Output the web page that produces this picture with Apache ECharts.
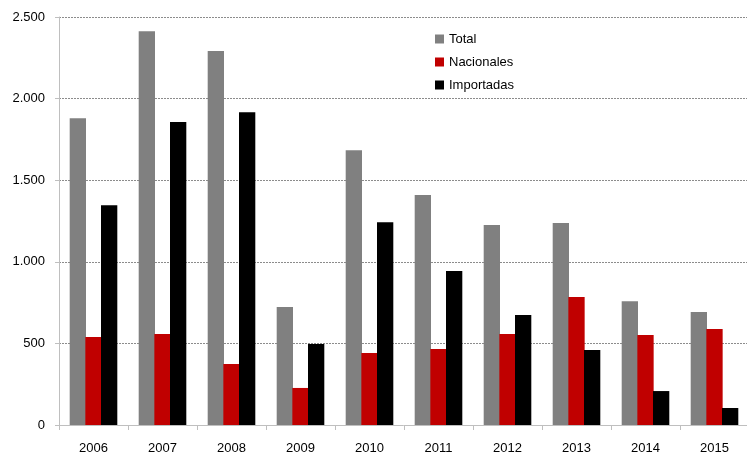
<!DOCTYPE html>
<html>
<head>
<meta charset="utf-8">
<script src="https://cdn.jsdelivr.net/npm/echarts@6/dist/echarts.min.js"></script>
<style>
  html, body { margin: 0; padding: 0; background: #fff; }
  #chart { width: 747px; height: 452px; }
</style>
</head>
<body>
<div id="chart"></div>
<script>
  var years = ['2006','2007','2008','2009','2010','2011','2012','2013','2014','2015'];
  var total = [1880, 2413, 2291, 723, 1684, 1409, 1225, 1237, 759, 692];
  var nacionales = [539, 557, 374, 227, 441, 465, 557, 784, 551, 588];
  var importadas = [1347, 1856, 1917, 496, 1243, 943, 674, 459, 208, 104];
  var yTicks = [0, 500, 1000, 1500, 2000, 2500];

  var font = 'Liberation Sans';
  var chart = echarts.init(document.getElementById('chart'));
  var option = {
    animation: false,
    textStyle: { fontFamily: font },
    grid: { left: 59, right: -2, top: 17, bottom: 27, outerBoundsMode: 'none' },
    legend: {
      orient: 'vertical',
      left: 430,
      top: 27,
      padding: 5,
      itemWidth: 9,
      itemHeight: 9,
      itemGap: 9,
      icon: 'rect',
      textStyle: { fontSize: 13, color: '#000', fontFamily: font, lineHeight: 14 },
      data: ['Total', 'Nacionales', 'Importadas']
    },
    xAxis: {
      type: 'category',
      data: years,
      axisLine: { lineStyle: { color: '#bfbfbf', width: 1 } },
      axisTick: { show: true, length: 5, lineStyle: { color: '#bfbfbf' } },
      axisLabel: { color: '#000', fontSize: 13, margin: 17 }
    },
    yAxis: {
      type: 'value',
      min: yTicks[0],
      max: yTicks[yTicks.length - 1],
      interval: 500,
      axisLine: { show: true, lineStyle: { color: '#bfbfbf' } },
      axisTick: { show: true, length: 4, lineStyle: { color: '#bfbfbf' } },
      axisLabel: {
        color: '#000', fontSize: 13, margin: 14,
        formatter: function (v) { return v.toLocaleString('de-DE'); }
      },
      splitLine: { lineStyle: { color: '#8c8c8c', type: [2, 1], width: 1 } }
    },
    series: [
      { name: 'Total', type: 'bar', data: total, itemStyle: { color: '#808080' }, barGap: '-4%', barCategoryGap: '31%' },
      { name: 'Nacionales', type: 'bar', data: nacionales, itemStyle: { color: '#c00000' } },
      { name: 'Importadas', type: 'bar', data: importadas, itemStyle: { color: '#000000' } }
    ]
  };
  chart.setOption(option);
</script>
</body>
</html>
